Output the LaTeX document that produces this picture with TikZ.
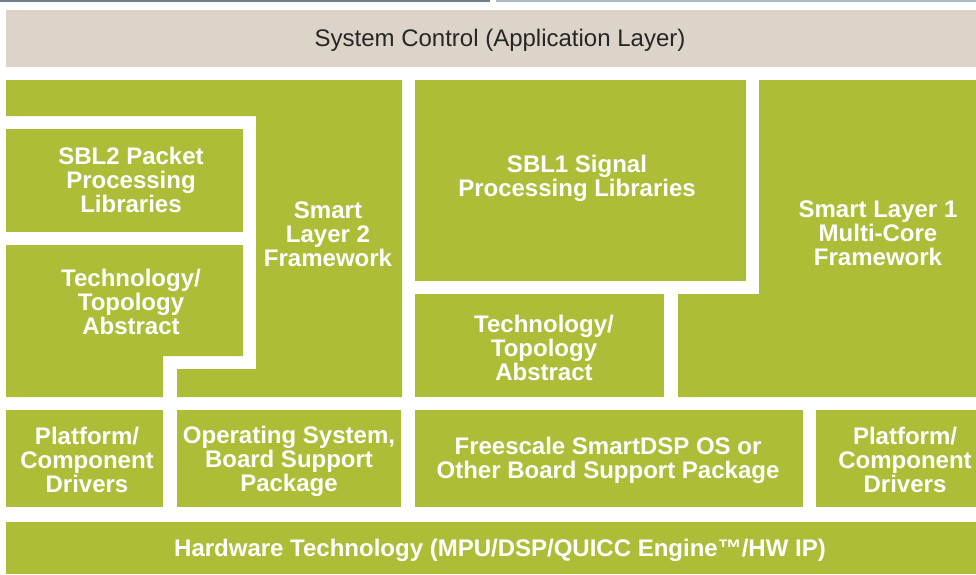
\documentclass[tikz,border=0pt]{standalone}
\usepackage{fontspec}
\setmainfont{Liberation Sans}
\definecolor{slgreen}{HTML}{AEBD38}
\definecolor{sltan}{HTML}{DCD3C9}
\definecolor{rulea}{HTML}{6E7F8E}
\definecolor{ruleb}{HTML}{AABACA}
\tikzset{
    lbl/.style={text=white, font=\bfseries\fontsize{24}{24}\selectfont, align=center, inner sep=0pt},
    toplbl/.style={text=black!85, font=\fontsize{24}{24}\selectfont, inner sep=0pt},
}

\begin{document}
\begin{tikzpicture}[x=1pt,y=-1pt]
\useasboundingbox (0,0) rectangle (976,574);
\fill[white] (0,0) rectangle (976,574);
\fill[rulea] (0,0) rectangle (490,1.5);
\fill[ruleb] (496,0) rectangle (976,1.5);
\fill[sltan] (6,10) rectangle (976,67);
% smart layer 2 side
\fill[slgreen] (6,80)--(402,80)--(402,397)--(177,397)--(177,369)--(256,369)--(256,116)--(6,116)--cycle;
\fill[slgreen] (6,129) rectangle (243,232);
\fill[slgreen] (6,245)--(243,245)--(243,356)--(163,356)--(163,397)--(6,397)--cycle;
% smart layer 1 side
\fill[slgreen] (415,80) rectangle (746,281);
\fill[slgreen] (759,80)--(976,80)--(976,397)--(678,397)--(678,294)--(759,294)--cycle;
\fill[slgreen] (415,294) rectangle (664,397);
% drivers and OS row
\fill[slgreen] (6,410) rectangle (163,507);
\fill[slgreen] (177,410) rectangle (401,507);
\fill[slgreen] (415,410) rectangle (803,507);
\fill[slgreen] (816,410) rectangle (976,507);
\fill[slgreen] (6,522) rectangle (976,574);

\node[toplbl] (sysctl) at (500,40) {System Control (Application Layer)};
\node[lbl] (sbl2) at (131,180) {SBL2 Packet\\Processing\\Libraries};
\node[lbl] (topo2) at (131,302) {Technology/\\Topology\\Abstract};
\node[lbl] (sl2) at (328,234) {Smart\\Layer 2\\Framework};
\node[lbl] (sbl1) at (577,178) {SBL1 Signal\\Processing Libraries};
\node[lbl] (sl1) at (878,233) {Smart Layer 1\\Multi-Core\\Framework};
\node[lbl] (topo1) at (544,348) {Technology/\\Topology\\Abstract};
\node[lbl] (drvl) at (87,460) {Platform/\\Component\\Drivers};
\node[lbl] (osbsp) at (289,461) {Operating System,\\Board Support\\Package};
\node[lbl] (sdsp) at (608,460) {Freescale SmartDSP OS or\\Other Board Support Package};
\node[lbl] (drvr) at (905,460) {Platform/\\Component\\Drivers};
\node[lbl] (hwtech) at (500,550) {Hardware Technology (MPU/DSP/QUICC Engine™/HW IP)};
\end{tikzpicture}
\end{document}
